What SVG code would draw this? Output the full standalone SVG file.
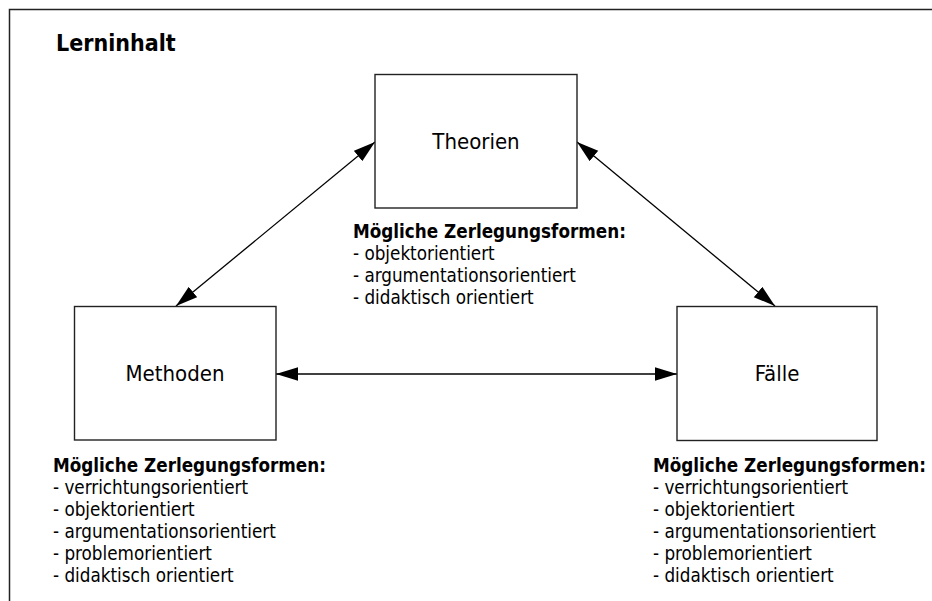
<svg xmlns="http://www.w3.org/2000/svg" width="932" height="601" viewBox="0 0 932 601">
<style>
text{font-family:"DejaVu Sans Condensed","DejaVu Sans",sans-serif;font-stretch:condensed;fill:#000}
.title{font-size:23px;font-weight:bold}
.lbl{font-size:22px;text-anchor:middle}
.hd{font-size:18.7px;font-weight:bold}
.it{font-size:18.7px}
.box{fill:#fff;stroke:#222;stroke-width:1.4}
.con{stroke:#000;stroke-width:1.3;fill:none;marker-start:url(#ah);marker-end:url(#ah)}
</style>
<defs>
<marker id="ah" markerUnits="userSpaceOnUse" markerWidth="23" markerHeight="14" refX="22" refY="6.7" orient="auto-start-reverse" viewBox="0 0 23 14">
<path d="M0,0 L22,6.7 L0,13.4 z" fill="#000"/>
</marker>
</defs>
<rect width="932" height="601" fill="#fff"/>
<path d="M9.5,601 V9.5 H932" fill="none" stroke="#222" stroke-width="1.5"/>
<text class="title" x="56" y="50.5">Lerninhalt</text>
<g id="connectors">
<line class="con" x1="276" y1="374" x2="677" y2="374"/>
<line class="con" x1="176" y1="306" x2="375" y2="142"/>
<line class="con" x1="577" y1="142" x2="775" y2="306"/>
</g>
<g id="theorien">
<rect class="box" x="375" y="74.5" width="202" height="133.5"/>
<text class="lbl" x="476" y="149">Theorien</text>
<text class="hd" x="353" y="238">Mögliche Zerlegungsformen:</text>
<text class="it" x="353" y="260">- objektorientiert</text>
<text class="it" x="353" y="282">- argumentationsorientiert</text>
<text class="it" x="353" y="304">- didaktisch orientiert</text>
</g>
<g id="methoden">
<rect class="box" x="74.5" y="306.5" width="201.5" height="133.5"/>
<text class="lbl" x="175" y="381">Methoden</text>
<text class="hd" x="53" y="472">Mögliche Zerlegungsformen:</text>
<text class="it" x="53" y="494">- verrichtungsorientiert</text>
<text class="it" x="53" y="516">- objektorientiert</text>
<text class="it" x="53" y="538">- argumentationsorientiert</text>
<text class="it" x="53" y="560">- problemorientiert</text>
<text class="it" x="53" y="582">- didaktisch orientiert</text>
</g>
<g id="faelle">
<rect class="box" x="677" y="306.5" width="200" height="134"/>
<text class="lbl" x="777" y="381">Fälle</text>
<text class="hd" x="653" y="472">Mögliche Zerlegungsformen:</text>
<text class="it" x="653" y="494">- verrichtungsorientiert</text>
<text class="it" x="653" y="516">- objektorientiert</text>
<text class="it" x="653" y="538">- argumentationsorientiert</text>
<text class="it" x="653" y="560">- problemorientiert</text>
<text class="it" x="653" y="582">- didaktisch orientiert</text>
</g>
</svg>
